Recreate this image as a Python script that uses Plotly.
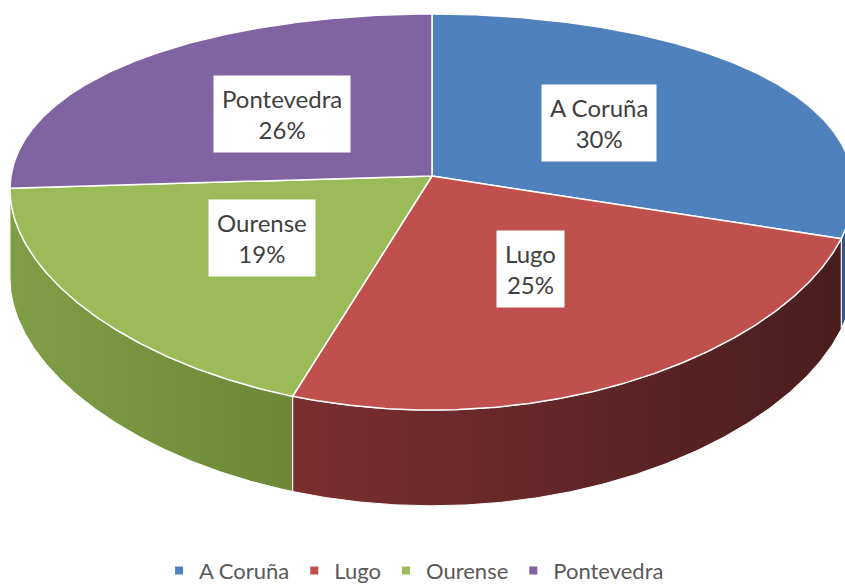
import numpy as np
import plotly.graph_objects as go

labels = ["A Coruña", "Lugo", "Ourense", "Pontevedra"]
values = [30, 25, 19, 26]
top_colors = ["#4F81BD", "#C0504D", "#9BBB59", "#8064A2"]
wall_left = ["#35598a", "#7b2f2f", "#809e46", "#5b4577"]
wall_right = ["#2a476e", "#4a1d1d", "#6c8838", "#4a385f"]

# projection parameters (pseudo-perspective of Excel 3D pie)
CX, CY = 432, 176
A, B = 421, 191.5
K, KX = 0.182, 0.07
D0 = 88


def proj(theta_deg, r=1.0):
    t = np.radians(theta_deg)
    X = r * np.sin(t)
    Z = r * np.cos(t)
    x = X / (1 + KX * Z)
    y = Z / (1 + K * Z)
    return CX + A * x, CY - B * y


def depth(theta_deg):
    Z = np.cos(np.radians(theta_deg))
    return D0 / (1 + 0.08 * Z)


total = sum(values)
bounds = np.concatenate([[0], np.cumsum(values) / total * 360])

# visible front wall range: between screen rightmost and leftmost points
th = np.linspace(0, 360, 3601)
sx_all, _ = proj(th)
th_right = th[np.argmax(sx_all[:1800])]
th_left = th[1800 + np.argmin(sx_all[1800:])]

fig = go.Figure()

# walls
for i in range(len(values)):
    a0, a1 = max(bounds[i], th_right), min(bounds[i + 1], th_left)
    if a1 <= a0:
        continue
    tt = np.linspace(a0, a1, 200)
    xs, ys = proj(tt)
    ds = depth(tt)
    px = np.concatenate([xs, xs[::-1], xs[:1]])
    py = np.concatenate([ys, (ys + ds)[::-1], ys[:1]])
    fig.add_trace(go.Scatter(
        x=px, y=py, mode="lines", fill="toself",
        line=dict(color="white", width=1.0),
        fillgradient=dict(type="horizontal",
                          colorscale=[[0, wall_left[i]], [1, wall_right[i]]],
                          start=float(xs.min()), stop=float(xs.max())),
        hoverinfo="skip", showlegend=False))

# tops
for i in range(len(values)):
    tt = np.linspace(bounds[i], bounds[i + 1], 300)
    xs, ys = proj(tt)
    px = np.concatenate([[CX], xs, [CX]])
    py = np.concatenate([[CY], ys, [CY]])
    fig.add_trace(go.Scatter(
        x=px, y=py, mode="lines", fill="toself",
        fillcolor=top_colors[i], line=dict(color="white", width=1.5),
        hoverinfo="skip", showlegend=False))

# labels
for i in range(len(values)):
    mid = (bounds[i] + bounds[i + 1]) / 2
    lx, ly = proj(mid, 0.5)
    pct = round(values[i] / total * 100)
    fig.add_annotation(
        x=lx, y=ly, text=f"{labels[i]}<br>{pct}%", showarrow=False,
        bgcolor="white", borderpad=8,
        font=dict(family="Lato", size=24, color="#404040"))

# legend entries
for i in range(len(values)):
    fig.add_trace(go.Scatter(
        x=[None], y=[None], mode="markers", name=labels[i],
        marker=dict(symbol="square", size=8, color=top_colors[i])))

fig.update_layout(
    width=845, height=587,
    margin=dict(l=0, r=0, t=0, b=0, autoexpand=False),
    paper_bgcolor="white", plot_bgcolor="white",
    xaxis=dict(range=[0, 845], visible=False, fixedrange=True),
    yaxis=dict(range=[587, 0], visible=False, fixedrange=True),
    showlegend=True,
    legend=dict(orientation="h", x=0.49, xanchor="center", y=-0.008,
                yanchor="bottom", font=dict(family="Lato", size=22, color="#595959"),
                itemwidth=30, tracegroupgap=0),
)

fig.write_html("out.html", config={"displayModeBar": False},
               post_script="document.body.style.margin='0';document.body.style.overflow='hidden';")
